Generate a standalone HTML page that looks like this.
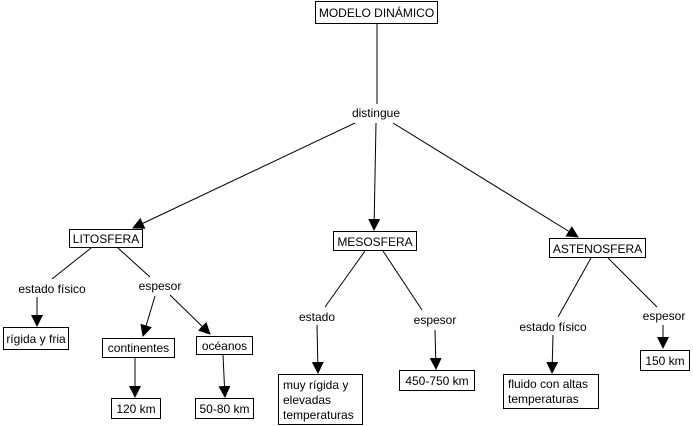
<!DOCTYPE html>
<html><head><meta charset="utf-8"><style>
html,body{margin:0;padding:0;background:#fff;width:693px;height:426px;overflow:hidden}
svg{display:block}
text{font-family:"Liberation Sans",Arial,sans-serif;font-size:12px;fill:#000}
rect{fill:#fff;stroke:#000;stroke-width:1}
line{stroke:#000;stroke-width:1}
</style></head><body>
<svg width="693" height="426" viewBox="0 0 693 426" xmlns="http://www.w3.org/2000/svg">
<defs><marker id="a" markerWidth="12" markerHeight="12" refX="11" refY="6" orient="auto" markerUnits="userSpaceOnUse"><path d="M0,0 L12,6 L0,12 z" fill="#000"/></marker></defs>
<!-- connectors -->
<line x1="377" y1="23" x2="377" y2="104"/>
<line x1="355" y1="123" x2="133" y2="228" marker-end="url(#a)"/>
<line x1="376" y1="123" x2="374" y2="230" marker-end="url(#a)"/>
<line x1="393" y1="123" x2="578" y2="237" marker-end="url(#a)"/>
<line x1="91" y1="248" x2="52" y2="279"/>
<line x1="118" y1="248" x2="150" y2="277"/>
<line x1="37" y1="297" x2="37" y2="326" marker-end="url(#a)"/>
<line x1="155" y1="296" x2="143" y2="336" marker-end="url(#a)"/>
<line x1="170" y1="295" x2="210" y2="334" marker-end="url(#a)"/>
<line x1="135" y1="357" x2="135" y2="397" marker-end="url(#a)"/>
<line x1="223" y1="355" x2="225" y2="397" marker-end="url(#a)"/>
<line x1="365" y1="251" x2="325" y2="307"/>
<line x1="383" y1="251" x2="422" y2="310"/>
<line x1="317" y1="325" x2="318" y2="373" marker-end="url(#a)"/>
<line x1="435" y1="330" x2="436" y2="369" marker-end="url(#a)"/>
<line x1="591" y1="258" x2="558" y2="317"/>
<line x1="608" y1="258" x2="657" y2="307"/>
<line x1="553" y1="335" x2="552" y2="373" marker-end="url(#a)"/>
<line x1="663" y1="325" x2="663" y2="348" marker-end="url(#a)"/>
<!-- boxes -->
<rect x="315.5" y="1.5" width="122" height="22"/>
<text x="376.5" y="17" text-anchor="middle">MODELO DINÁMICO</text>
<text x="376" y="117" text-anchor="middle">distingue</text>
<rect x="69.5" y="229.5" width="73" height="18"/>
<text x="106" y="243" text-anchor="middle">LITOSFERA</text>
<rect x="333.5" y="231.5" width="83" height="19"/>
<text x="375" y="246" text-anchor="middle">MESOSFERA</text>
<rect x="549.5" y="238.5" width="96" height="19"/>
<text x="597.5" y="253" text-anchor="middle">ASTENOSFERA</text>
<text x="52" y="293" text-anchor="middle">estado físico</text>
<text x="160" y="290" text-anchor="middle">espesor</text>
<text x="317" y="321" text-anchor="middle">estado</text>
<text x="435" y="324" text-anchor="middle">espesor</text>
<text x="553" y="331" text-anchor="middle">estado físico</text>
<text x="664" y="320" text-anchor="middle">espesor</text>
<rect x="3.5" y="327.5" width="65" height="22"/>
<text x="36" y="343" text-anchor="middle">rígida y fria</text>
<rect x="102.5" y="338.5" width="72" height="19"/>
<text x="138.5" y="352" text-anchor="middle">continentes</text>
<rect x="196.5" y="336.5" width="56" height="18"/>
<text x="224.5" y="350" text-anchor="middle">océanos</text>
<rect x="111.5" y="398.5" width="49" height="20"/>
<text x="136" y="413" text-anchor="middle">120 km</text>
<rect x="195.5" y="398.5" width="58" height="20"/>
<text x="224.5" y="413" text-anchor="middle">50-80 km</text>
<rect x="278.5" y="374.5" width="84" height="50"/>
<text x="283" y="389">muy rígida y</text>
<text x="283" y="404">elevadas</text>
<text x="283" y="419">temperaturas</text>
<rect x="399.5" y="370.5" width="75" height="20"/>
<text x="437" y="385" text-anchor="middle">450-750 km</text>
<rect x="503.5" y="374.5" width="95" height="34"/>
<text x="508" y="388">fluido con altas</text>
<text x="508" y="403">temperaturas</text>
<rect x="640.5" y="350.5" width="49" height="20"/>
<text x="665" y="365" text-anchor="middle">150 km</text>
</svg>
</body></html>
